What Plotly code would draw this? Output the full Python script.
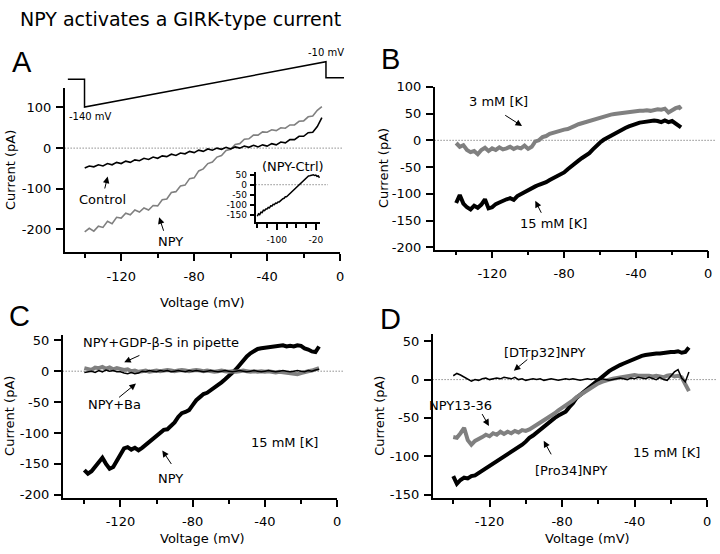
import plotly.graph_objects as go

# ================= DATA =================
# Panel A: ramp I-V, Control and NPY (voltage sampled every 2.5 mV)
A_V = [-140, -137.5, -135, -132.5, -130, -127.5, -125, -122.5, -120, -117.5,
       -115, -112.5, -110, -107.5, -105, -102.5, -100, -97.5, -95, -92.5,
       -90, -87.5, -85, -82.5, -80, -77.5, -75, -72.5, -70, -67.5,
       -65, -62.5, -60, -57.5, -55, -52.5, -50, -47.5, -45, -42.5,
       -40, -37.5, -35, -32.5, -30, -27.5, -25, -22.5, -20, -17.5,
       -15, -12.5, -10]
A_CONTROL = [-49, -44, -46, -41, -44, -38, -41, -35, -38, -32,
             -35, -29, -31, -25, -28, -22, -25, -19, -21, -15,
             -18, -12, -14, -8, -11, -5, -8, -2, -5, 0,
             -3, 2, -2, 3, 0, 5, 2, 7, 3, 8,
             5, 11, 8, 15, 13, 21, 21, 29, 29, 38,
             39, 53, 75]
A_NPY = [-206, -197, -204, -192, -195, -180, -186, -170, -172, -160,
         -164, -152, -157, -147, -152, -141, -142, -127, -125, -109,
         -107, -93, -91, -75, -73, -56, -51, -38, -34, -22,
         -18, -6, -3, 9, 11, 22, 23, 32, 32, 40,
         39, 45, 43, 50, 49, 57, 57, 66, 67, 77,
         79, 93, 102]

# Panel A inset: NPY - Ctrl
INS_V = [-140, -137.5, -135, -132.5, -130, -127.5, -125, -122.5, -120, -117.5,
         -115, -112.5, -110, -107.5, -105, -102.5, -100, -97.5, -95, -92.5,
         -90, -87.5, -85, -82.5, -80, -77.5, -75, -72.5, -70, -67.5,
         -65, -62.5, -60, -57.5, -55, -52.5, -50, -47.5, -45, -42.5,
         -40, -37.5, -35, -32.5, -30, -27.5, -25, -22.5, -20, -17.5,
         -15, -12.5]
INS_I = [-158, -146, -150, -138, -140, -128, -130, -122, -122, -114,
         -116, -106, -107, -98, -100, -92, -94, -86, -86, -80,
         -78, -70, -68, -60, -60, -54, -48, -43, -40, -33,
         -28, -20, -16, -8, -3, 6, 10, 18, 25, 31,
         36, 40, 44, 45, 48, 47, 50, 46, 48, 42,
         44, 35]

# Voltage protocol (time in ms, command potential in mV)
PROT_T = [0, 70, 70, 1070, 1070, 1145]
PROT_MV = [-60, -60, -140, -10, -56, -56]

# Panel B: 15 mM vs 3 mM [K]
B_V = [-140, -138, -136, -134, -132, -130, -128, -126, -124, -122,
       -120, -118, -116, -114, -112, -110, -108, -106, -104, -102,
       -100, -98, -96, -94, -92, -90, -88, -86, -84, -82,
       -80, -78, -76, -74, -72, -70, -68, -66, -64, -62,
       -60, -58, -56, -54, -52, -50, -48, -46, -44, -42,
       -40, -38, -36, -34, -32, -30, -28, -26, -24, -22,
       -20, -18, -16, -15]
B_15MM = [-117, -102, -118, -125, -129, -122, -126, -120, -110, -127,
          -125, -119, -116, -112, -110, -108, -111, -104, -100, -96,
          -92, -90, -86, -83, -81, -78, -74, -71, -67, -64,
          -60, -54, -48, -43, -38, -33, -29, -24, -17, -10,
          -4, 1, 5, 9, 13, 16, 19, 23, 26, 29,
          31, 33, 34, 35, 35, 37, 36, 34, 37, 34,
          36, 31, 28, 24]
B_3MM = [-5, -12, -9, -18, -22, -20, -26, -18, -14, -20,
         -15, -18, -13, -17, -15, -12, -16, -13, -15, -10,
         -16, -12, -2, 0, 6, 8, 12, 14, 17, 18,
         20, 21, 25, 27, 30, 32, 34, 36, 39, 41,
         43, 45, 46, 48, 49, 50, 51, 52, 53, 54,
         54, 55, 55, 56, 55, 56, 58, 57, 59, 52,
         57, 60, 62, 58]

# Panel C
C_V = [-140, -138, -136, -134, -132, -130, -128, -126, -124, -122,
       -120, -118, -116, -114, -112, -110, -108, -106, -104, -102,
       -100, -98, -96, -94, -92, -90, -88, -86, -84, -82,
       -80, -78, -76, -74, -72, -70, -68, -66, -64, -62,
       -60, -58, -56, -54, -52, -50, -48, -46, -44, -42,
       -40, -38, -36, -34, -32, -30, -28, -26, -24, -22,
       -20, -18, -16, -14, -12, -10]
C_NPY = [-160, -166, -162, -155, -147, -140, -150, -158, -155, -145,
         -132, -125, -123, -127, -124, -128, -124, -119, -115, -110,
         -105, -99, -95, -94, -89, -83, -74, -68, -66, -63,
         -55, -47, -42, -37, -35, -31, -27, -23, -18, -13,
         -8, -3, 3, 10, 18, 24, 29, 33, 36, 37,
         38, 38, 39, 40, 41, 42, 40, 41, 40, 42,
         41, 37, 35, 32, 31, 40]
C_BA = [-2, -1, 0, -2, 1, -1, 2, 0, 1, -1,
        -1, -3, -4, -2, -4, -3, 0, -1, 1, 0,
        -1, 1, 0, 1, -1, 0, 1, 0, -1, 1,
        0, 1, 0, -1, 0, 1, 0, -1, 0, 1,
        0, -1, 0, 1, 0, -1, 0, 1, 0, -1,
        0, 1, 0, -1, 0, 1, 0, -1, 0, 1,
        0, -1, 1, 0, 2, 3]
C_GDP = [5, 3, 2, 6, 5, 7, 4, 6, 3, 5,
         4, 2, 3, 0, 1, -1, 0, 1, -1, 0,
         1, 0, 1, 2, 1, 0, 1, 2, 1, 0,
         1, 2, 1, 0, 1, 0, -1, 0, 1, 0,
         -1, 0, -1, 0, 1, 0, -1, 0, -1, 0,
         -1, 0, -1, -2, -1, -2, -3, -4, -5, -5,
         -3, -1, 0, 1, 3, 5]

# Panel D
D_V = C_V
D_PRO34 = [-126, -136, -131, -128, -129, -126, -125, -122, -119, -115,
           -112, -109, -106, -103, -101, -98, -95, -92, -88, -85,
           -81, -76, -73, -69, -66, -62, -58, -54, -50, -47,
           -45, -42, -36, -31, -24, -20, -17, -13, -9, -5,
           -1, 3, 7, 11, 14, 17, 19, 21, 23, 26,
           28, 29, 31, 32, 33, 33, 34, 34, 35, 35,
           36, 36, 37, 35, 36, 42]
D_1336 = [-75, -76, -70, -63, -79, -85, -80, -78, -75, -72,
          -74, -70, -72, -68, -71, -68, -70, -67, -69, -66,
          -67, -65, -62, -60, -57, -54, -50, -47, -44, -40,
          -37, -33, -30, -27, -23, -20, -17, -13, -10, -7,
          -5, -3, -1, 0, 1, 2, 3, 4, 4, 5,
          6, 5, 5, 6, 5, 4, 5, 4, 3, 5,
          6, 4, 5, 3, -5, -15]
D_DTRP = [5, 8, 6, 3, 1, -2, 0, -1, 1, 2,
          0, 1, 2, 1, 3, 2, 1, 3, 0, 1,
          -1, 0, 1, 0, 1, -1, 0, 1, 0, -1,
          0, 1, 0, 1, 0, -1, 0, 1, 0, 1,
          0, 1, 0, -1, 0, 1, 2, 1, 0, 2,
          1, 3, 2, 1, 3, 1, 0, 3, 0, -1,
          4, 10, 13, 2, -3, 10]

X_TICKS = [-120, -80, -40, 0]
X_TEXT = ["-120", "-80", "-40", "0"]
A_YTICKS = [-200, -100, 0, 100]
B_YTICKS = [-200, -150, -100, -50, 0, 50, 100]
C_YTICKS = [-200, -150, -100, -50, 0, 50]
D_YTICKS = [-150, -100, -50, 0, 50]
INS_XTICKS = [-100, -20]
INS_YTICKS = [-150, -100, -50, 0, 50]

# ================= LAYOUT HELPERS =================
W, H = 720, 554
FONT = "DejaVu Sans"
GRAY = "#808080"
DOT = dict(color="#555555", width=1, dash="1px,2px")


def dx(left, right):
    return [left / W, right / W]


def dy(top, bottom):
    return [1 - bottom / H, 1 - top / H]


def txt(vals):
    return [str(v) for v in vals]


fig = go.Figure()


def trace(x, y, xa, ya, color, width):
    fig.add_trace(go.Scatter(x=x, y=y, xaxis=xa, yaxis=ya, mode="lines",
                             line=dict(color=color, width=width),
                             hoverinfo="skip", showlegend=False))


def x_axis(domain, rng, anchor, vals, texts, size=13, ticklen=7, minorlen=4,
           minor_dtick=20, standoff=4):
    return dict(domain=domain, range=rng, anchor=anchor, showline=True,
                linecolor="black", linewidth=1.5, ticks="outside", ticklen=ticklen,
                tickwidth=1.5, tickcolor="black", tickmode="array", tickvals=vals,
                ticktext=texts, tickfont=dict(family=FONT, size=size, color="black"),
                ticklabelstandoff=standoff,
                minor=dict(dtick=minor_dtick, tick0=0, ticks="outside", ticklen=minorlen,
                           tickwidth=1.5, tickcolor="black", showgrid=False),
                showgrid=False, zeroline=False, fixedrange=True)


def y_axis(domain, rng, anchor, vals, size=13, ticklen=7, standoff=2):
    return dict(domain=domain, range=rng, anchor=anchor, showline=True,
                linecolor="black", linewidth=1.5, ticks="outside", ticklen=ticklen,
                tickwidth=1.5, tickcolor="black", tickmode="array", tickvals=vals,
                ticktext=txt(vals), tickfont=dict(family=FONT, size=size, color="black"),
                ticklabelstandoff=standoff,
                showgrid=False, zeroline=False, fixedrange=True)


# ================= TRACES =================
# A
trace(A_V, A_NPY, "x", "y", GRAY, 1.6)
trace(A_V, A_CONTROL, "x", "y", "black", 1.6)
# inset
trace(INS_V, INS_I, "x2", "y2", "black", 1.5)
# B
trace(B_V, B_3MM, "x3", "y3", GRAY, 4)
trace(B_V, B_15MM, "x3", "y3", "black", 4)
# C
trace(C_V, C_NPY, "x4", "y4", "black", 4)
trace(C_V, C_GDP, "x4", "y4", GRAY, 4)
trace(C_V, C_BA, "x4", "y4", "black", 1.5)
# D
trace(D_V, D_PRO34, "x5", "y5", "black", 4)
trace(D_V, D_1336, "x5", "y5", GRAY, 4)
trace(D_V, D_DTRP, "x5", "y5", "black", 1.5)
# protocol
trace(PROT_T, PROT_MV, "x6", "y6", "black", 1.5)

layout = dict(
    width=W, height=H, margin=dict(l=0, r=0, t=0, b=0),
    paper_bgcolor="white", plot_bgcolor="rgba(0,0,0,0)", showlegend=False,
    font=dict(family=FONT, size=13, color="black"),
    xaxis=x_axis(dx(65, 342), [-151, 0], "y", X_TICKS, X_TEXT),
    yaxis=y_axis(dy(82.7, 250.7), [-256, 148], "x", A_YTICKS),
    xaxis2=x_axis(dx(257, 322), [-143.5, -11], "y2", INS_XTICKS, txt(INS_XTICKS),
                  size=9, ticklen=6, minorlen=4, standoff=2),
    yaxis2=y_axis(dy(169, 220), [-188, 62], "x2", INS_YTICKS, size=9, ticklen=4, standoff=1),
    xaxis3=x_axis(dx(437, 712), [-152, 0], "y3", X_TICKS, X_TEXT),
    yaxis3=y_axis(dy(81.5, 248), [-204, 100], "x3", B_YTICKS),
    xaxis4=x_axis(dx(63, 339), [-152, 0], "y4", X_TICKS, X_TEXT),
    yaxis4=y_axis(dy(335, 501.7), [-205, 59], "x4", C_YTICKS),
    xaxis5=x_axis(dx(435, 711), [-151.4, 0], "y5", X_TICKS, X_TEXT),
    yaxis5=y_axis(dy(334, 501.7), [-154.3, 59.8], "x5", D_YTICKS),
    xaxis6=dict(domain=dx(68, 346), range=[0, 1145], anchor="y6", visible=False,
                fixedrange=True),
    yaxis6=dict(domain=dy(54.2, 104.1), range=[-145, -5], anchor="x6", visible=False,
                fixedrange=True),
)
fig.update_layout(**layout)

# zero (dotted) reference lines
for xr, yr, x1 in [("x", "y", 1.012), ("x2", "y2", 1.12), ("x3", "y3", 1.03),
                   ("x4", "y4", 1.02), ("x5", "y5", 1.033)]:
    fig.add_shape(type="line", xref=xr + " domain", yref=yr, x0=0, x1=x1, y0=0, y1=0,
                  line=DOT, layer="below")


def label(xa, ya, x, y, text, size=13, family=FONT, **kw):
    fig.add_annotation(xref=xa, yref=ya, x=x, y=y, text=text, showarrow=False,
                       font=dict(family=family, size=size, color="black"), **kw)


def arrow(xa, ya, x, y, ax, ay):
    fig.add_annotation(xref=xa, yref=ya, x=x, y=y, ax=ax, ay=ay, text="",
                       showarrow=True, arrowhead=2, arrowsize=1.3, arrowwidth=1,
                       arrowcolor="black", standoff=0)


def paper(px, py, text, size=13, family=FONT, angle=0):
    fig.add_annotation(xref="paper", yref="paper", x=px / W, y=1 - py / H, text=text,
                       showarrow=False, textangle=angle,
                       font=dict(family=family, size=size, color="black"),
                       xanchor="center", yanchor="middle")


# title and panel letters
paper(181.5, 12.5, "NPY activates a GIRK-type current", size=19)
paper(22, 56, "A", size=29, family="Liberation Sans")
paper(393, 53, "B", size=29, family="Liberation Sans")
paper(20, 316, "C", size=29, family="Liberation Sans")
paper(393, 319, "D", size=29, family="Liberation Sans")

# axis titles
paper(10, 166.7, "Current (pA)", angle=-90)
paper(385, 164.8, "Current (pA)", angle=-90)
paper(10, 418, "Current (pA)", angle=-90)
paper(382, 418, "Current (pA)", angle=-90)
paper(204, 301.7, "Voltage (mV)")
paper(204, 543, "Voltage (mV)")
paper(591, 543, "Voltage (mV)")

# Panel A labels
label("x", "y", -130.3, -127, "Control")
arrow("x", "y", -127.4, -70, -3.3, 13.4)
label("x", "y", -93.2, -230, "NPY")
arrow("x", "y", -99.2, -170, 5, 15)
paper(295, 163, "(NPY-Ctrl)")
paper(91, 112, "-140 mV", size=10)
paper(328, 47, "-10 mV", size=10)

# Panel B labels
label("x3", "y3", -116.2, 72.3, "3 mM [K]")
arrow("x3", "y3", -103.4, 26.7, -18.3, -11.7)
label("x3", "y3", -85.8, -156, "15 mM [K]")
arrow("x3", "y3", -96, -113, 6.7, 13.4)

# Panel C labels
label("x4", "y4", -97.5, 45.9, "NPY+GDP-β-S in pipette")
arrow("x4", "y4", -117.9, 14.3, 16.7, -7.6)
label("x4", "y4", -123.4, -54.5, "NPY+Ba")
arrow("x4", "y4", -111.4, -20.1, -18.4, 15)
label("x4", "y4", -92.5, -173, "NPY")
arrow("x4", "y4", -96.8, -128.3, 10, 15)
label("x4", "y4", -29.3, -116, "15 mM [K]")

# Panel D labels
label("x5", "y5", -89.2, 35.9, "[DTrp32]NPY")
arrow("x5", "y5", -106.6, 11.6, 15, -12.4)
label("x5", "y5", -135.9, -33.8, "NPY13-36")
arrow("x5", "y5", -120.3, -60.4, -7.7, -13.3)
label("x5", "y5", -75.0, -118, "[Pro34]NPY")
arrow("x5", "y5", -90.1, -79.9, 8.3, 15)
label("x5", "y5", -22.5, -94.7, "15 mM [K]")

fig.write_html("out.html",
               config={"displayModeBar": False, "staticPlot": False},
               post_script="document.body.style.margin='0px';"
                           "document.documentElement.style.overflow='hidden';")
